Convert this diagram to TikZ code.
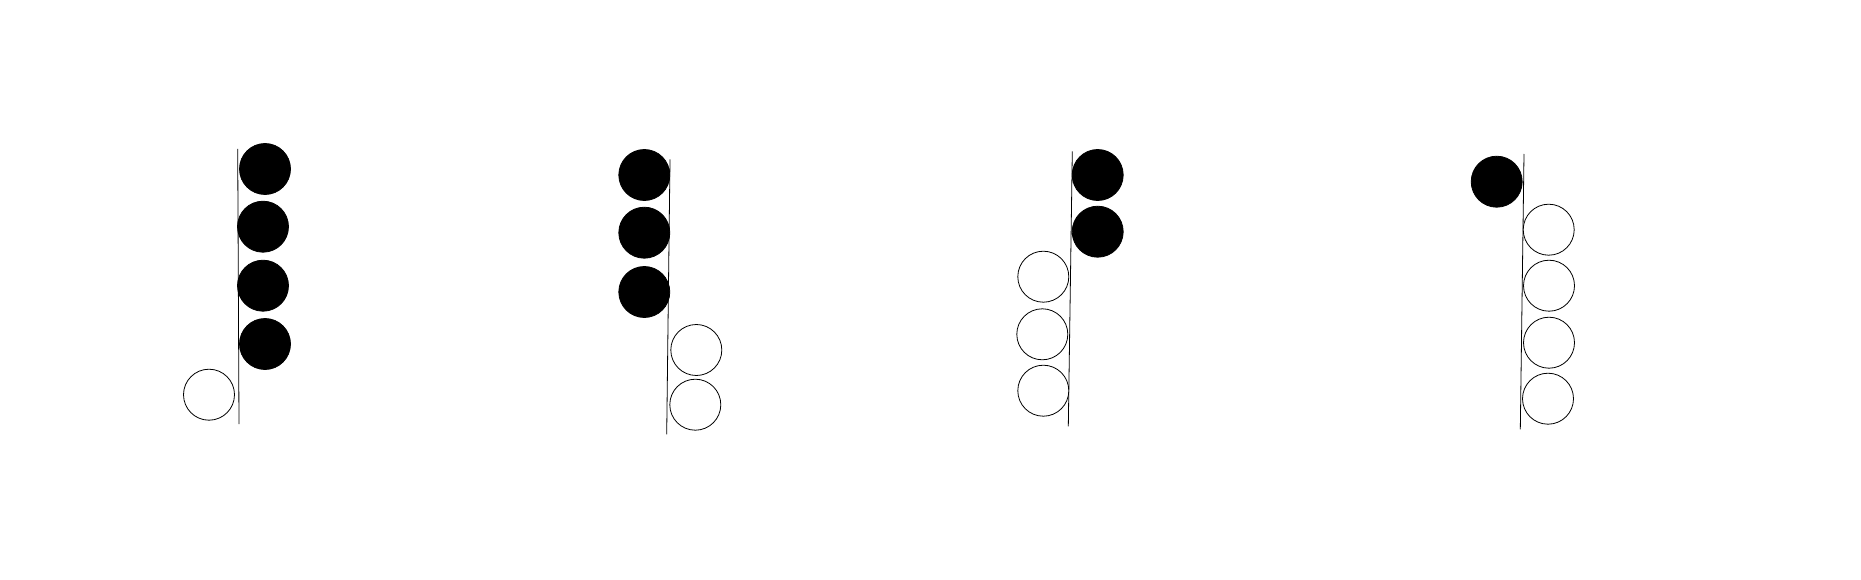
\documentclass[tikz,border=0pt]{standalone}
\usepackage{tikz}
\usetikzlibrary{positioning}

\begin{document}
\begin{tikzpicture}[x=1pt,y=-1pt,
                    line width=0.8pt,
                    full node/.style={circle,fill=black,draw=black,minimum size=51pt,inner sep=0pt},
                    empty node/.style={circle,fill=white,draw=black,minimum size=51pt,inner sep=0pt}
                   ]
               \useasboundingbox (0,0) rectangle (1861,580);

               % first rod
               \coordinate (t1) at (237.7,149);
               \coordinate (s1) at (239,424);
               \draw (t1) -- (s1);
               \node[full node] (1) at (265,169) {};
               \node[full node] (2) at (263,226.7) {};
               \node[full node] (3) at (263,285.7) {};
               \node[full node] (4) at (265,344) {};
               \node[empty node] (5) at (209,394.7) {};

               % second rod
               \coordinate (t2) at (670,159.3);
               \coordinate (s2) at (666.7,434.3);
               \draw (t2) -- (s2);
               \node[full node] (6) at (644.3,175) {};
               \node[full node] (7) at (644.3,232.7) {};
               \node[full node] (8) at (644.3,292) {};
               \node[empty node] (9) at (696.3,350) {};
               \node[empty node] (10) at (695.3,404.7) {};

               % third rod
               \coordinate (t3) at (1072.3,151.3);
               \coordinate (s3) at (1068.3,426.3);
               \draw (t3) -- (s3);
               \node[full node] (11) at (1097.7,175) {};
               \node[full node] (12) at (1097.7,231.7) {};
               \node[empty node] (13) at (1043.3,276.7) {};
               \node[empty node] (14) at (1042.3,334.3) {};
               \node[empty node] (15) at (1043.3,390.7) {};

               % fourth rod
               \coordinate (t4) at (1524,154);
               \coordinate (s4) at (1520.3,429.3);
               \draw (t4) -- (s4);
               \node[full node] (16) at (1496.7,181.7) {};
               \node[empty node] (17) at (1548.7,229.7) {};
               \node[empty node] (18) at (1549,285.7) {};
               \node[empty node] (19) at (1549,342.7) {};
               \node[empty node] (20) at (1548,398.7) {};
           \end{tikzpicture}
\end{document}
